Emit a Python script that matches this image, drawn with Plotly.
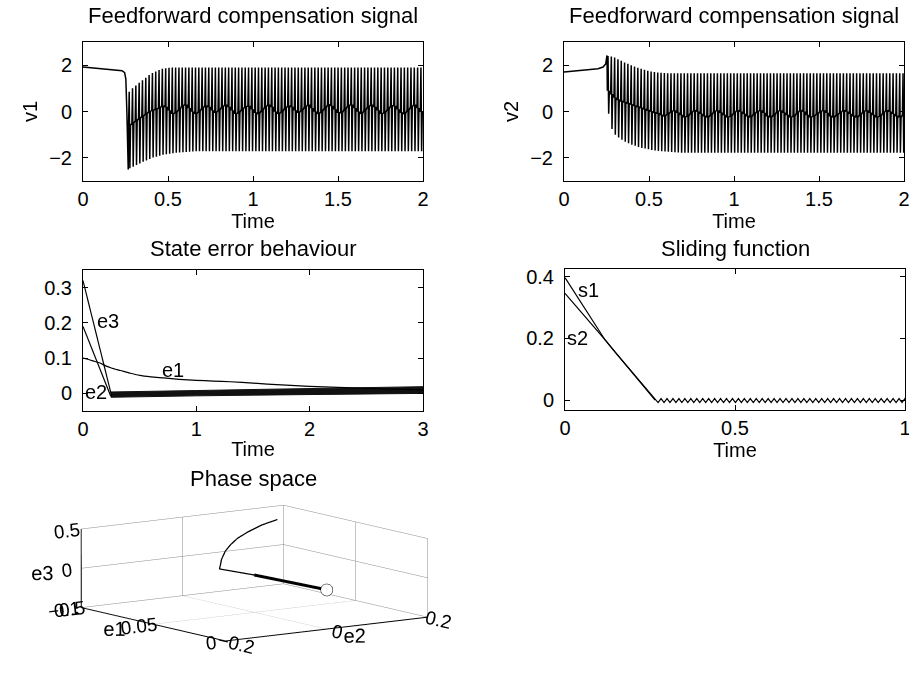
import plotly.graph_objects as go

FONT = "Liberation Sans, Arial, sans-serif"

# ---------------- data ----------------
# Feedforward compensation signal v1
v1_pre_t = [0, 0.05, 0.10, 0.15, 0.20, 0.23, 0.245, 0.252, 0.258, 0.266]
v1_pre_v = [1.92, 1.89, 1.86, 1.83, 1.80, 1.76, 1.68, 1.40, 0.00, -2.50]
v1_chat_start = 0.268
v1_period = 0.0195
v1_hi = [0.85, 1.0, 1.12, 1.24, 1.35, 1.46, 1.57, 1.66, 1.73, 1.79, 1.84, 1.87, 1.89] + [1.9] * 76
v1_lo = [-2.45, -2.38, -2.31, -2.24, -2.17, -2.11, -2.05, -1.99, -1.95, -1.91, -1.87, -1.84,
         -1.82, -1.80, -1.78, -1.77, -1.76, -1.75, -1.74, -1.73] + [-1.72] * 69
v1_mid = [-0.6, -0.5, -0.4, -0.3, -0.2, -0.1, 0.0, 0.05, 0.1,
          0.15, 0.25, 0.2, 0.05, -0.1, -0.05, 0.1, 0.25, 0.3, 0.15, 0.0, -0.1, 0.0, 0.15,
          0.25, 0.2, 0.05, -0.05, 0.05, 0.2, 0.3, 0.2, 0.05, -0.1, -0.05, 0.1, 0.2, 0.25,
          0.1, -0.05, -0.1, 0.05, 0.2, 0.3, 0.2, 0.0, -0.1, 0.0, 0.15, 0.25,
          0.2, 0.05, -0.05, 0.05, 0.2, 0.3, 0.15, 0.0, -0.1, 0.0, 0.15, 0.3, 0.25, 0.1,
          -0.05, -0.05, 0.1, 0.25, 0.3, 0.15, 0.0, -0.1, 0.05, 0.2, 0.3, 0.2, 0.05, -0.1,
          -0.05, 0.1, 0.25, 0.25, 0.1, -0.05, -0.1, 0.05, 0.2, 0.3, 0.15, 0.0]

# Feedforward compensation signal v2
v2_pre_t = [0, 0.05, 0.10, 0.15, 0.20, 0.23, 0.245, 0.253]
v2_pre_v = [1.71, 1.74, 1.77, 1.80, 1.85, 1.92, 2.05, 2.42]
v2_chat_start = 0.255
v2_period = 0.0195
v2_hi = [2.4, 2.37, 2.33, 2.26, 2.19, 2.11, 2.06, 2.0, 1.94, 1.89, 1.84, 1.8, 1.76, 1.73,
         1.7, 1.68, 1.67, 1.66] + [1.65] * 72
v2_lo = [-0.1, -0.75, -1.0, -1.12, -1.22, -1.3, -1.37, -1.43, -1.48, -1.53, -1.57, -1.6,
         -1.63, -1.66, -1.68, -1.7, -1.72, -1.73, -1.74, -1.75, -1.76, -1.77] + [-1.78] * 68
v2_mid = [0.9, 0.75, 0.6, 0.5, 0.45, 0.4, 0.35, 0.3, 0.25, 0.2, 0.15, 0.1, 0.05, 0.0, -0.05, -0.08,
          -0.15, -0.2, -0.1, 0.0, 0.05, -0.05, -0.15, -0.25, -0.2, -0.05, 0.05, 0.0, -0.1,
          -0.2, -0.25, -0.15, 0.0, 0.05, -0.05, -0.15, -0.25, -0.2, -0.05, 0.05, 0.0, -0.1,
          -0.2, -0.25, -0.1, 0.0, 0.05, -0.05, -0.2, -0.25, -0.15, 0.0,
          0.05, -0.05, -0.15, -0.25, -0.2, -0.05, 0.05, 0.0, -0.15, -0.25, -0.2, -0.1, 0.0,
          0.05, -0.05, -0.2, -0.25, -0.15, -0.05, 0.05, 0.0, -0.1, -0.2, -0.25, -0.15, 0.0,
          0.05, -0.05, -0.15, -0.25, -0.2, -0.05, 0.05, 0.0, -0.1, -0.2, -0.25, -0.15]

# State error behaviour
e1_t = [0, 0.05, 0.10, 0.15, 0.20, 0.25, 0.33, 0.42, 0.50, 0.60, 0.71, 0.85, 1.0, 1.15, 1.3,
        1.5, 1.75, 2.0, 2.25, 2.5, 2.75, 3.0]
e1_v = [0.100, 0.096, 0.091, 0.086, 0.078, 0.072, 0.065, 0.057, 0.051, 0.047, 0.044, 0.040,
        0.037, 0.035, 0.033, 0.029, 0.024, 0.020, 0.017, 0.014, 0.012, 0.010]
e2_t = [0, 0.245]
e2_v = [0.19, -0.008]
e3_t = [0, 0.253]
e3_v = [0.32, -0.008]
band_t = [0.245, 0.5, 1.0, 1.5, 2.0, 2.5, 3.0]
band_hi = [0.004, 0.006, 0.008, 0.011, 0.014, 0.017, 0.019]
band_lo = [-0.011, -0.009, -0.007, -0.005, -0.003, -0.001, 0.0]

# Sliding function
s1_t = [0, 0.03, 0.06, 0.09, 0.118, 0.15, 0.2, 0.24, 0.265]
s1_v = [0.397, 0.345, 0.293, 0.242, 0.195, 0.152, 0.087, 0.034, 0.0]
s2_t = [0, 0.06, 0.118, 0.15, 0.2, 0.24, 0.265]
s2_v = [0.346, 0.270, 0.195, 0.152, 0.087, 0.034, 0.0]
s_chat_start = 0.265
s_period = 0.0175
s_hi = [0.005] * 43
s_lo = [-0.008] * 43

# Phase space trajectory (e1, e2, e3)
ph_e1 = [0.100, 0.095, 0.090, 0.086, 0.082, 0.079, 0.076, 0.072, 0.068, 0.047]
ph_e2 = [0.188, 0.143, 0.101, 0.069, 0.044, 0.025, 0.009, -0.005, -0.018, -0.009]
ph_e3 = [0.327, 0.313, 0.277, 0.237, 0.192, 0.137, 0.058, 0.003, -0.010, -0.005]
ph_tail_e1 = [0.047, 0.0]
ph_tail_e2 = [-0.009, 0.0]
ph_tail_e3 = [-0.005, 0.0]

assert len(v1_hi) == len(v1_lo) == len(v1_mid)
assert len(v2_hi) == len(v2_lo) == len(v2_mid)


def chatter(pre_t, pre_v, start, period, hi, lo, mid):
    t, v = list(pre_t), list(pre_v)
    for k, (h, l, m) in enumerate(zip(hi, lo, mid)):
        t0 = start + k * period
        t += [t0, t0 + 0.2 * period, t0 + 0.4 * period, t0 + 0.6 * period]
        v += [m, h, l, m]
    return t, v


v1_t, v1_v = chatter(v1_pre_t, v1_pre_v, v1_chat_start, v1_period, v1_hi, v1_lo, v1_mid)
v2_t, v2_v = chatter(v2_pre_t, v2_pre_v, v2_chat_start, v2_period, v2_hi, v2_lo, v2_mid)

s_tail_t, s_tail_v = [], []
for k, (h, l) in enumerate(zip(s_hi, s_lo)):
    t0 = s_chat_start + k * s_period
    s_tail_t += [t0 + 0.5 * s_period, t0 + s_period]
    s_tail_v += [l, h]

# ---------------- figure ----------------
fig = go.Figure()
LINE = dict(color="black", width=1.2)
OSC = dict(color="black", width=1.5)

fig.add_trace(go.Scatter(x=v1_t, y=v1_v, mode="lines", line=OSC, xaxis="x", yaxis="y"))
fig.add_trace(go.Scatter(x=v2_t, y=v2_v, mode="lines", line=OSC, xaxis="x2", yaxis="y2"))

fig.add_trace(go.Scatter(x=band_t + band_t[::-1], y=band_hi + band_lo[::-1], mode="lines",
                         fill="toself", fillcolor="#111111", line=dict(color="#111111", width=1),
                         xaxis="x3", yaxis="y3"))
fig.add_trace(go.Scatter(x=e1_t, y=e1_v, mode="lines", line=dict(LINE, shape="spline", smoothing=0.6),
                         xaxis="x3", yaxis="y3"))
fig.add_trace(go.Scatter(x=e2_t, y=e2_v, mode="lines", line=LINE, xaxis="x3", yaxis="y3"))
fig.add_trace(go.Scatter(x=e3_t, y=e3_v, mode="lines", line=LINE, xaxis="x3", yaxis="y3"))

fig.add_trace(go.Scatter(x=s1_t, y=s1_v, mode="lines", line=LINE, xaxis="x4", yaxis="y4"))
fig.add_trace(go.Scatter(x=s2_t + s_tail_t, y=s2_v + s_tail_v, mode="lines", line=LINE,
                         xaxis="x4", yaxis="y4"))

fig.add_trace(go.Scatter3d(x=ph_e2, y=ph_e1, z=ph_e3, mode="lines",
                           line=dict(color="black", width=2.5), scene="scene"))
fig.add_trace(go.Scatter3d(x=ph_tail_e2, y=ph_tail_e1, z=ph_tail_e3, mode="lines",
                           line=dict(color="black", width=6), scene="scene"))
fig.add_trace(go.Scatter3d(x=[ph_tail_e2[-1]], y=[ph_tail_e1[-1]], z=[ph_tail_e3[-1]],
                           mode="markers",
                           marker=dict(size=7, color="white", line=dict(color="black", width=2)),
                           scene="scene"))

W, H = 909, 673


def px_x(a, b):
    return [a / W, b / W]


def px_y(top, bottom):
    return [1 - bottom / H, 1 - top / H]


TICKFONT = dict(family=FONT, size=20, color="black")
TITLEFONT = dict(family=FONT, size=20, color="black")


def axis(domain, rng, tickvals, ticktext, title=None, anchor=None, standoff=0, tstand=4):
    d = dict(domain=domain, range=rng, tickvals=tickvals, ticktext=ticktext,
             showline=True, linecolor="black", linewidth=1, mirror="ticks",
             ticks="inside", ticklen=5, tickcolor="black", showgrid=False,
             zeroline=False, tickfont=TICKFONT, fixedrange=True, anchor=anchor,
             ticklabelstandoff=standoff, automargin=False, ticklabeloverflow="allow")
    if title:
        d["title"] = dict(text=title, font=TITLEFONT, standoff=tstand)
    return d


top_y = px_y(42, 181)
mid_y_l = px_y(270, 411)
mid_y_r = px_y(269, 410)
lx = px_x(83, 423)
rx = px_x(564, 904)
rx2 = px_x(565, 905)

tx2 = [0, 0.5, 1, 1.5, 2]
tt2 = ["0", "0.5", "1", "1.5", "2"]

fig.update_layout(
    width=W, height=H, margin=dict(l=0, r=0, t=0, b=0, autoexpand=False),
    paper_bgcolor="white", plot_bgcolor="white", showlegend=False,
    font=dict(family=FONT, color="black"),
    xaxis=axis(lx, [0, 2], tx2, tt2, "Time", "y", 0, 2),
    yaxis=axis(top_y, [-3, 3], [-2, 0, 2], ["−2", "0", "2"], "v1", "x", 6, 6),
    xaxis2=axis(rx, [0, 2], tx2, tt2, "Time", "y2", 0, 2),
    yaxis2=axis(top_y, [-3, 3], [-2, 0, 2], ["−2", "0", "2"], "v2", "x2", 6, 6),
    xaxis3=axis(lx, [0, 3], [0, 1, 2, 3], ["0", "1", "2", "3"], "Time", "y3", 0, 2),
    yaxis3=axis(mid_y_l, [-0.05, 0.35], [0, 0.1, 0.2, 0.3], ["0", "0.1", "0.2", "0.3"], None, "x3", 6),
    xaxis4=axis(rx2, [0, 1], [0, 0.5, 1], ["0", "0.5", "1"], "Time", "y4", 0, 2),
    yaxis4=axis(mid_y_r, [-0.032, 0.425], [0, 0.2, 0.4], ["0", "0.2", "0.4"], None, "x4", 6),
)

ax3d = dict(showbackground=False, gridcolor="#8a8a8a", gridwidth=1, showline=True,
            linecolor="black", linewidth=2, zeroline=False, showspikes=False,
            tickfont=dict(family=FONT, size=15, color="black"), ticks="")
TITLE3D = dict(family=FONT, size=20, color="black")
fig.update_layout(scene=dict(
    domain=dict(x=[0.0, 0.56], y=[0.0, 0.3076]),
    xaxis=dict(ax3d, title=dict(text="e2", font=TITLE3D), range=[-0.2, 0.2],
               tickvals=[-0.2, 0, 0.2], ticktext=["−0.2", "0", "0.2"]),
    yaxis=dict(ax3d, title=dict(text="e1", font=TITLE3D), range=[0, 0.1],
               tickvals=[0, 0.05, 0.1], ticktext=["0", "0.05", "0.1"]),
    zaxis=dict(ax3d, title=dict(text="e3", font=TITLE3D), range=[-0.5, 0.5],
               tickvals=[-0.5, 0, 0.5], ticktext=["−0.5", "0", "0.5"]),
    aspectmode="manual", aspectratio=dict(x=2.4, y=2.4, z=0.77),
    camera=dict(eye=dict(x=-1.142, y=-1.601, z=0.364), up=dict(x=0, y=0, z=1),
                center=dict(x=0, y=0, z=0.035), projection=dict(type="orthographic")),
    dragmode=False,
))

# subplot titles
titles = [("Feedforward compensation signal", 253, 15),
          ("Feedforward compensation signal", 734, 15),
          ("State error behaviour", 253, 248),
          ("Sliding function", 735, 248),
          ("Phase space", 253, 478)]
for text, xp, yp in titles:
    fig.add_annotation(text=text, x=xp / W, y=1 - yp / H, xref="paper", yref="paper",
                       showarrow=False, xanchor="center", yanchor="middle",
                       font=dict(family=FONT, size=22, color="black"))

# curve labels
labels = [("e3", 0.22, 0.205, "x3", "y3"), ("e1", 0.79, 0.065, "x3", "y3"),
          ("e2", 0.115, 0.005, "x3", "y3"),
          ("s1", 0.07, 0.357, "x4", "y4"), ("s2", 0.038, 0.201, "x4", "y4")]
for text, xv, yv, xr, yr in labels:
    fig.add_annotation(text=text, x=xv, y=yv, xref=xr, yref=yr, showarrow=False,
                       xanchor="center", yanchor="middle",
                       font=dict(family=FONT, size=20, color="black"))

fig.write_html("out.html", config={"displayModeBar": False},
               post_script="document.body.style.margin='0';document.body.style.overflow='hidden';")
